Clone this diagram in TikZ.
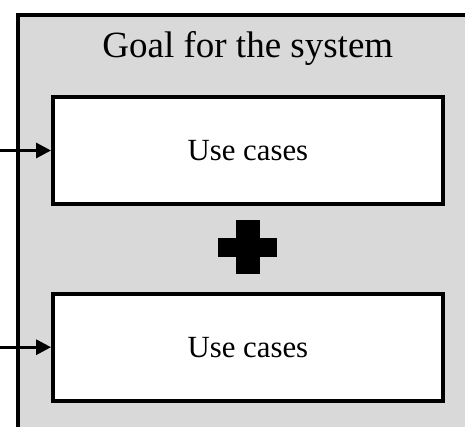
\documentclass[tikz,border=0pt]{standalone}
\usepackage{fontspec}
\setmainfont{Liberation Serif}
\usetikzlibrary{arrows.meta}
\definecolor{panelgray}{HTML}{D9D9D9}
\begin{document}
\begin{tikzpicture}[x=1pt,y=-1pt,
  casebox/.style={draw=black, line width=4pt, fill=white, inner sep=0pt,
    minimum width=389.7pt, minimum height=107pt,
    font=\fontsize{30.8pt}{36pt}\selectfont},
  feed/.style={line width=3pt, -{Triangle[length=15pt,width=15pt]}}]
  \useasboundingbox (0,0) rectangle (465,426);
  \clip (0,0) rectangle (465,426);
  % grey panel that runs past the right and bottom edges
  \node[draw=black, line width=4pt, fill=panelgray, anchor=north west,
        minimum width=520pt, minimum height=480pt, inner sep=0pt] (panel) at (16,13) {};
  \node[anchor=base, font=\fontsize{37pt}{44pt}\selectfont, inner sep=0pt] (goal) at (247.8,57) {Goal for the system};
  \node[casebox] (uc1) at (247.9,150.5) {Use cases};
  \node[casebox] (uc2) at (247.9,347.2) {Use cases};
  % plus sign between the two boxes
  \fill (218,238) rectangle (277,257);
  \fill (236,220) rectangle (260,274);
  % incoming connectors
  \coordinate (in1) at (0,150.5);
  \coordinate (in2) at (0,347.2);
  \draw[feed] (in1) -- (uc1.west);
  \draw[feed] (in2) -- (uc2.west);
\end{tikzpicture}
\end{document}
